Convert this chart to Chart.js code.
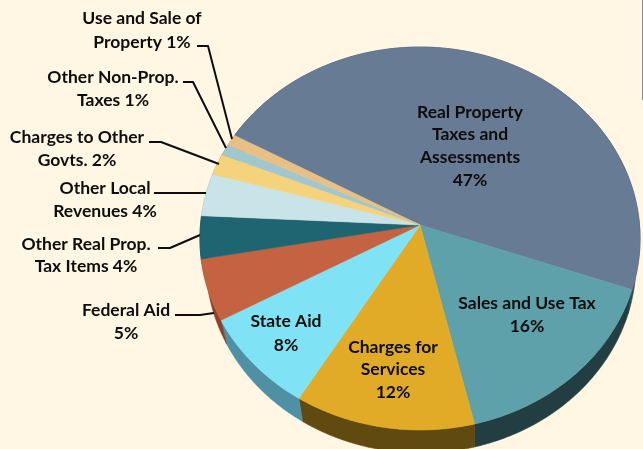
<!DOCTYPE html>
<html><head><meta charset="utf-8">
<style>html,body{margin:0;padding:0;background:#FFF7E3;overflow:hidden}canvas{display:block}</style>
<script src="https://cdn.jsdelivr.net/npm/chart.js@4/dist/chart.umd.min.js"></script>
</head><body><canvas id="c" width="643" height="449"></canvas>
<script>
const categories=["Real Property Taxes and Assessments","Sales and Use Tax","Charges for Services","State Aid","Federal Aid","Other Real Prop. Tax Items","Other Local Revenues","Charges to Other Govts.","Other Non-Prop. Taxes","Use and Sale of Property"];
const sliceShares=[47.3,15.9,12.4,8.3,5.2,3.6,3.6,1.8,0.95,0.95];
const faceColors=["#687B94","#5EA1AA","#E1AB27","#80E3F5","#C46241","#1F6571","#C9E4E9","#F5D27C","#A0C6CE","#E8C086"];
const sideColors=["#3A4658","#233E43","#614A10","#4F90A4","#8A4229","#12404A","#8AA0A5","#A89050","#70898F","#A08658"];
const labelLines=[["Real Property","Taxes and","Assessments","47%"],["Sales and Use Tax","16%"],["Charges for","Services","12%"],["State Aid","8%"],["Federal Aid","5%"],["Other Real Prop.","Tax Items 4%"],["Other Local","Revenues 4%"],["Charges to Other","Govts. 2%"],["Other Non-Prop.","Taxes 1%"],["Use and Sale of","Property 1%"]];
const labelAnchors=[[470,112,22.7],[527,303,23],[393,347,22.5],[286,321,24],[126,310,23],[86,244,22.5],[105,188,23],[77,137,23],[113,77,23],[142,18,24]];
const leaders=[[[197,46],[208,46],[232,139]],[[183,82],[193,82],[226,148]],[[149,142],[161,142],[219,164]],[[154,193],[206,193]],[[158,248],[170,248],[200,235]],[[175,315],[200,315],[214,313]]];
const rotationDeg=-60.9;

// Perspective of the tilted disc
const AP={x:420,y:225},SX=219.5,SY=190.5,K=-0.0705;
const TOP={x:420,y:238,rx:220,ry:191},BOT={x:421,y:262,rx:215,ry:190};
function rim(t){const u=Math.sin(t),v=-Math.cos(t),d=1+K*v;return{x:AP.x+SX*u/d,y:AP.y+SY*v/d};}
function lower(p){const s=(p.x-TOP.x)/TOP.rx,c=(TOP.y-p.y)/TOP.ry;return{x:BOT.x+BOT.rx*s,y:BOT.y-BOT.ry*c};}
function samples(a,b){const n=Math.max(2,Math.ceil((b-a)/0.01)),r=[];for(let i=0;i<=n;i++)r.push(a+(b-a)*i/n);return r;}

const pie3d={id:'pie3d',
 beforeDatasetDraw(chart,args){
  const ctx=chart.ctx,arcs=chart.getDatasetMeta(args.index).data;
  ctx.save();ctx.lineWidth=0.6;ctx.lineJoin='round';
  arcs.forEach((el,i)=>{
   const ts=samples(el.startAngle+Math.PI/2,el.endAngle+Math.PI/2),ps=ts.map(rim),qs=ps.map(lower);
   ctx.beginPath();ps.forEach((p,j)=>j?ctx.lineTo(p.x,p.y):ctx.moveTo(p.x,p.y));
   qs.reverse().forEach(q=>ctx.lineTo(q.x,q.y));ctx.closePath();
   ctx.fillStyle=ctx.strokeStyle=sideColors[i];ctx.fill();ctx.stroke();
  });
  arcs.forEach((el,i)=>{
   const ts=samples(el.startAngle+Math.PI/2,el.endAngle+Math.PI/2);
   ctx.beginPath();ctx.moveTo(AP.x,AP.y);ts.map(rim).forEach(p=>ctx.lineTo(p.x,p.y));ctx.closePath();
   ctx.fillStyle=ctx.strokeStyle=faceColors[i];ctx.fill();ctx.stroke();
  });
  ctx.restore();
  return false;
 },
 afterDraw(chart){
  const ctx=chart.ctx;ctx.save();
  ctx.strokeStyle='#8C8C8C';ctx.lineWidth=1;ctx.beginPath();ctx.moveTo(642.5,0);ctx.lineTo(642.5,100);ctx.stroke();
  ctx.strokeStyle='#0D0D0D';ctx.lineWidth=2;ctx.lineJoin='round';
  leaders.forEach(l=>{ctx.beginPath();l.forEach((p,j)=>j?ctx.lineTo(p[0],p[1]):ctx.moveTo(p[0],p[1]));ctx.stroke();});
  ctx.fillStyle='#0D0D0D';ctx.font='bold 17.5px Lato';ctx.textAlign='center';ctx.textBaseline='middle';
  labelLines.forEach((lines,i)=>{const[a,b,h]=labelAnchors[i];lines.forEach((t,j)=>ctx.fillText(t,a,b+j*h));});
  ctx.restore();
 }};

new Chart(document.getElementById('c'),{type:'pie',
 data:{labels:categories,datasets:[{data:sliceShares,backgroundColor:faceColors,borderWidth:0}]},
 options:{responsive:false,animation:false,rotation:rotationDeg,layout:{padding:0},
  plugins:{legend:{display:false},tooltip:{enabled:false}}},
 plugins:[pie3d]});
</script></body></html>
